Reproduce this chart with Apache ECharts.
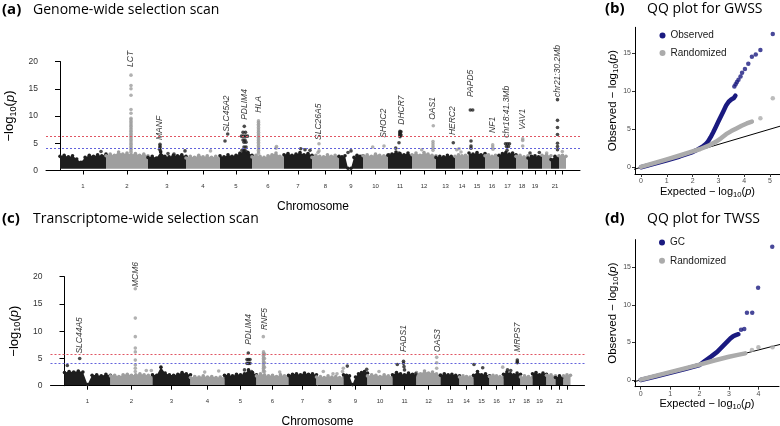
<!DOCTYPE html>
<html><head><meta charset="utf-8">
<script src="https://cdn.jsdelivr.net/npm/echarts@6/dist/echarts.min.js"></script>
<style>html,body{margin:0;padding:0;background:#fff}#c{width:780px;height:426px}</style>
</head><body><div id="c"></div>
<script>
// ---------- data ----------
const chromTickLabels = ['1','2','3','4','5','6','7','8','9','10','11','12','13','14','15','16','17','18','19','','21',''];
// relative chromosome lengths (plot units)
const chromLengths = [46,42,38,34,32,32,28,27,24,25,24,24,19,14,16,14,17,12,14,9,8,7];

// GWSS: upper edge of the dense point cloud along each chromosome
const gwssCloudTop = [
  [2.6,2.8,2.5,2.7,2.1,1.5,2.4,2.8,2.6,2.9,2.7,3.0],
  [2.7,3.0,2.8,3.4,3.0,3.2,2.9,3.1,2.8,3.0,2.7],
  [2.4,2.6,2.3,3.4,2.6,2.5,2.8,2.7,2.9,2.6],
  [2.3,2.6,2.4,2.8,2.5,2.7,2.4,2.6,2.3],
  [2.7,2.5,2.9,2.6,2.8,3.1,3.6,3.3,2.8],
  [2.5,2.8,2.6,2.4,2.7,2.9,3.2,2.6,2.5],
  [2.9,3.1,2.8,3.0,3.3,2.9,3.1,2.8],
  [2.4,2.8,2.6,2.5,2.9,2.6,2.8,2.5],
  [2.6,2.5,2.7,0.4,0.4,2.4,2.8,2.6,2.7],
  [2.7,2.9,2.6,3.0,2.8,2.7,2.9],
  [2.8,3.0,3.4,3.1,2.9,3.2,2.7],
  [2.9,3.2,2.8,3.3,3.0,2.8,2.7],
  [2.4,2.6,2.5,2.8,2.6,2.4],
  [2.6,2.9,2.7,2.8,2.6],
  [3.2,3.0,3.3,2.9,3.1],
  [2.7,2.9,2.6,2.8,2.6],
  [2.8,3.1,3.3,3.0,3.2,2.9],
  [2.6,2.8,2.5,2.7],
  [2.3,2.6,2.7,2.5,2.6],
  [2.8,2.9,2.7],
  [2.0,2.6,2.4],
  [2.7,2.8,2.6]
];
const gwssCloudBottom = 0.3;
// GWSS individual points above the cloud: [chromosome, position in chromosome, -log10 p]
const gwssPoints = [
  [1,41,3.5],
  [2,25,17.5],[2,25,15.6],[2,25,15.0],[2,25,13.8],[2,25,11.2],[2,25,10.5],
  [2,25,9.6],[2,25,9.3],[2,25,9.0],[2,25,8.7],[2,25,8.4],[2,25,8.1],[2,25,7.8],[2,25,7.5],[2,25,7.2],[2,25,6.9],
  [2,25,6.6],[2,25,6.3],[2,25,6.0],[2,25,5.7],[2,25,5.4],[2,25,5.1],[2,25,4.8],[2,25,4.5],[2,25,4.2],[2,25,3.9],[2,25,3.6],[2,25,3.3],
  [3,12,4.8],[3,12,4.5],[3,12,4.2],[3,11.5,3.9],[3,12.5,3.6],[3,20,3.1],[3,26,3.0],[3,37,3.6],
  [4,24.5,3.6],
  [5,5,5.4],[5,7.7,6.7],[5,24.3,8.1],[5,23,7.0],[5,25.5,7.0],[5,21.5,6.3],[5,23.5,6.3],[5,25.5,6.3],[5,27.5,6.3],
  [5,23,5.6],[5,25,5.6],[5,24,5.2],[5,26,5.2],[5,24,4.3],[5,26,4.3],[5,22,3.7],[5,25,3.7],[5,27,3.4],[5,20,3.2],[5,28,3.1],
  [6,6.5,9.1],[6,6.5,8.8],[6,6.5,8.5],[6,6.5,8.2],[6,6.5,7.9],[6,6.5,7.6],[6,6.5,7.3],[6,6.5,7.0],[6,6.5,6.7],[6,6.5,6.4],
  [6,6.5,6.1],[6,6.5,5.8],[6,6.5,5.5],[6,6.5,5.2],[6,6.5,4.9],[6,6.5,4.6],[6,6.5,4.3],[6,6.5,4.0],[6,6.5,3.7],[6,6.5,3.4],[6,6.5,3.1],
  [6,24,4.1],[6,24.5,4.4],
  [7,16.7,4.0],[7,21,3.8],[7,26,3.7],
  [8,7,4.9],[8,7,3.6],[8,6,3.3],
  [9,9,3.3],[9,12,3.6],
  [10,9.7,4.3],[10,21,4.5],
  [11,12,7.2],[11,12,7.0],[11,12,6.8],[11,12,6.6],[11,12,6.4],[11,12,6.2],[11,13,7.1],[11,13,6.5],
  [11,11,5.1],[11,7.7,4.1],[11,11,3.2],[11,1,2.9],[11,5,2.8],
  [12,21.3,8.2],[12,21,5.3],[12,21,4.9],[12,21,4.5],[12,21,4.1],[12,21,3.7],[12,9.7,3.8],
  [13,17.3,5.1],
  [14,1.7,3.8],[14,4,4.0],[14,6,3.4],
  [15,1.3,11.1],[15,3.7,11.1],[15,2,5.4],[15,2,4.5],[15,2,4.1],
  [16,7.7,4.7],[16,7.7,4.3],[16,8,3.9],
  [17,6.5,4.9],[17,8.5,4.9],[17,10.5,4.9],[17,7.5,4.4],[17,9.5,4.4],[17,8,3.7],
  [18,6.7,5.8],[18,6.7,5.5],[18,6.7,4.5],
  [19,2,3.2],[19,11.3,3.3],
  [20,4.7,3.2],
  [21,6.5,13.0],[21,6.5,9.2],[21,6.5,7.9],[21,6.5,6.6],[21,6.5,5.0],[21,6.5,4.4],[21,6.5,3.8],
  [22,3.3,3.5]
];
// gene annotations: [chromosome, position, label base height, name]
const gwssGenes = [
  [2,25,19.0,'LCT'],[3,12,5.6,'MANF'],[5,7,7.1,'SLC45A2'],[5,25,9.3,'PDLIM4'],[6,7,10.6,'HLA'],
  [8,7,5.6,'SLC26A5'],[10,21,6.0,'SHOC2'],[11,14,8.4,'DHCR7'],[12,21,9.3,'OAS1'],[13,17,6.5,'HERC2'],
  [15,2,13.5,'PAPD5'],[16,8,6.9,'NF1'],[17,8,6.0,'chr18:41.3Mb'],[18,7,7.5,'VAV1'],[21,7,13.5,'chr21:30.2Mb']
];
const gwssThresholds = [6.2, 4.0];

// TWSS
const twssCloudTop = [
  [2.4,2.6,2.5,2.7,2.5,0.2,1.9,2.0,1.8,2.1,1.9],
  [1.8,1.9,1.7,2.0,2.1,1.9,2.0,2.2,2.0,1.9,1.8],
  [2.0,1.9,3.4,2.3,2.0,1.9,2.1,2.4,2.2,2.0],
  [1.5,1.7,1.6,1.8,1.6,1.7,1.5,1.6,1.5],
  [1.9,2.0,1.8,2.1,2.0,2.2,2.9,2.4,2.0],
  [1.8,2.2,2.0,1.8,1.9,1.7,2.0,1.8,1.7],
  [1.9,2.1,2.2,2.0,2.3,2.1,2.2,2.0],
  [1.6,1.7,1.5,1.8,1.6,1.7,1.5,1.6],
  [2.0,1.9,1.8,0.2,1.6,2.2,2.4,2.6,2.3],
  [1.8,2.0,1.9,1.7,2.0,1.8,1.7],
  [2.0,2.4,2.2,2.0,2.3,2.1,2.0],
  [2.4,2.2,2.7,2.3,2.5,2.2,2.0],
  [1.9,2.2,2.0,2.1,1.9,1.8],
  [1.6,1.8,1.7,1.6,1.5],
  [1.9,2.6,2.0,2.2,1.8],
  [1.7,1.9,1.8,1.7,1.6],
  [2.1,2.5,2.2,2.0,2.3,2.1],
  [1.6,1.8,1.7,1.6],
  [2.2,2.4,2.0,2.3,2.1],
  [1.9,2.0,1.8],
  [1.5,1.8,1.6],
  [1.8,2.0,1.9]
];
const twssCloudBottom = 0.15;
const twssPoints = [
  [1,2.8,3.7],[1,15.2,5.0],
  [2,24.8,17.8],[2,24.8,12.4],[2,24.8,9.0],[2,24.8,6.9],[2,24.8,6.2],[2,24.8,4.7],[2,24.8,3.8],[2,24.8,3.2],[2,24.8,2.6],
  [2,35.8,2.8],[2,40.8,2.8],
  [4,14.2,2.5],[4,28.2,2.7],
  [5,23.8,6.0],[5,22.5,4.8],[5,24,4.8],[5,25.5,4.8],[5,22.5,4.1],[5,24,4.1],[5,25.5,4.1],[5,20,2.9],[5,27,2.6],
  [6,6.8,9.0],[6,7,6.2],[6,7,5.9],[6,7,5.6],[6,7,5.3],[6,7,5.0],[6,7,4.7],[6,7,4.4],[6,7,4.1],[6,7,3.8],[6,7,3.5],
  [6,7,3.2],[6,7,2.9],[6,7,2.6],[6,8,5.8],[6,8,5.0],[6,8,4.2],[6,8,3.4],[6,8,2.6],[6,23.2,2.5],
  [8,6.8,2.6],[8,16.5,2.2],[8,20.5,2.2],[8,26.8,3.2],[8,26,2.6],
  [9,3.8,3.6],[9,23.2,3.0],
  [10,11.5,2.6],
  [11,4.8,3.9],[11,11,4.5],[11,11,4.1],[11,11.5,3.5],[11,12,2.9],[11,23.2,2.2],
  [12,20.2,5.2],[12,20.2,4.2],[12,20.2,3.2],
  [15,0.5,3.9],[15,9.2,3.3],
  [16,13.2,3.4],
  [17,7.2,2.8],[17,4,2.9],[17,13.8,4.7],[17,13.8,4.4],[17,13.8,4.2]
];
const twssGenes = [
  [1,15,5.9,'SLC44A5'],[2,25.2,18.1,'MCM6'],[5,23.8,7.5,'PDLIM4'],[6,8.5,10.2,'RNF5'],
  [11,11.5,6.2,'FADS1'],[12,20.8,6.2,'OAS3'],[17,14.2,6.2,'MRPS7']
];
const twssThresholds = [5.75, 4.1];

// QQ plots: [expected, observed]
const qqGwssObservedBand = [[0,0],[0.5,0.45],[1,0.92],[1.5,1.42],[2,2.0],[2.2,2.35],[2.4,2.75],[2.5,3.0],[2.6,3.4],[2.7,3.95],[2.8,4.6],[2.9,5.3],[3.0,6.0],[3.1,6.7],[3.2,7.4],[3.3,8.1],[3.4,8.6],[3.5,8.9],[3.6,9.1],[3.66,9.4]];
const qqGwssObservedTail = [[3.62,10.6],[3.67,10.9],[3.72,11.2],[3.78,11.5],[3.86,11.9],[3.92,12.4],[4.03,12.9],[4.16,13.6],[4.3,14.5],[4.45,14.8],[4.63,15.4],[5.11,17.5]];
const qqGwssRandomBand = [[0,0.05],[0.5,0.55],[1,1.05],[1.5,1.55],[2,2.08],[2.3,2.4],[2.6,2.8],[2.9,3.35],[3.1,3.8],[3.3,4.35],[3.5,4.75],[3.7,5.1],[3.9,5.45],[4.1,5.75],[4.3,6.0]];
const qqGwssRandomTail = [[4.63,6.45],[5.11,9.05]];
const qqTwssObservedBand = [[0,0],[0.5,0.47],[1,0.95],[1.5,1.45],[2,2.0],[2.2,2.6],[2.4,3.15],[2.6,3.75],[2.8,4.55],[2.95,5.15],[3.05,5.55],[3.15,5.85],[3.25,6.0],[3.32,6.1]];
const qqTwssObservedTail = [[3.41,6.7],[3.52,6.8],[3.61,8.96],[3.79,8.96],[3.99,12.3],[4.47,17.75]];
const qqTwssRandomBand = [[0,0.05],[0.5,0.55],[1,1.05],[1.5,1.55],[2,2.05],[2.5,2.6],[3.0,3.1],[3.3,3.35],[3.55,3.55]];
const qqTwssRandomTail = [[3.78,4.0],[4.0,4.35],[4.48,4.35]];
const qqReference = [[-1,-1],[20,20]];
const qqTicksGwssX = [0,1,2,3,4,5];
const qqTicksTwssX = [0,1,2,3,4];
const qqTicksY = [0,5,10,15];

// ---------- build ----------
const BLACK = '#1e1e1e', GRAY = '#9e9e9e', NAVY = '#1a1a80', QGRAY = '#ababab';
const RED = '#e05563', BLUE = '#6262dc';
const chromStarts = []; { let acc = 0; chromLengths.forEach(l => { chromStarts.push(acc); acc += l; }); }
const chromMids = chromStarts.map((s, i) => s + chromLengths[i] / 2);
const SANS = 'Liberation Sans';

function logName(prefix) {
  return '{t|' + prefix + 'log}{s|10}{t|(}{i|p}{t|)}';
}
function logRich(size) {
  return {
    t: {fontSize: size, fontFamily: SANS, color: '#000'},
    s: {fontSize: size * 0.7, fontFamily: SANS, color: '#000', padding: [size * 0.5, 0, 0, 0]},
    i: {fontSize: size, fontFamily: SANS, fontStyle: 'italic', color: '#000'}
  };
}

function manX(gi) {
  return {
    type: 'value', gridIndex: gi, min: -14, max: 520,
    axisLine: {show: true, onZero: false, lineStyle: {color: '#000', width: 1}},
    axisTick: {show: true, customValues: chromMids, length: 4, lineStyle: {color: '#000'}},
    axisLabel: {show: true, customValues: chromMids, fontSize: 6, color: '#333', fontFamily: SANS, margin: 13,
      formatter: v => { const i = chromMids.findIndex(m => Math.abs(m - v) < 0.01); return i >= 0 ? chromTickLabels[i] : ''; }},
    splitLine: {show: false},
    name: 'Chromosome', nameLocation: 'middle', nameGap: 30,
    nameTextStyle: {fontSize: 12, fontFamily: SANS, color: '#000'}
  };
}
function manY(gi) {
  return {
    type: 'value', gridIndex: gi, min: 0, max: 20, interval: 5,
    axisLine: {show: true, lineStyle: {color: '#000', width: 1}},
    axisTick: {show: true, length: 5, lineStyle: {color: '#000'}},
    axisLabel: {fontSize: 8.5, color: '#333', fontFamily: SANS, margin: 8},
    splitLine: {show: false},
    name: logName('−'), nameLocation: 'middle', nameGap: 27, nameRotate: 90,
    nameTextStyle: {rich: logRich(13)}
  };
}
function qqX(gi, min, max, ticks) {
  return {
    type: 'value', gridIndex: gi, min: min, max: max,
    axisLine: {show: true, onZero: false, lineStyle: {color: '#000', width: 1}},
    axisTick: {show: true, customValues: ticks, length: 3, lineStyle: {color: '#333'}},
    axisLabel: {show: true, customValues: ticks, fontSize: 7, color: '#4d4d4d', fontFamily: SANS, margin: 4},
    splitLine: {show: false},
    name: logName('Expected − '), nameLocation: 'middle', nameGap: 11,
    nameTextStyle: {rich: logRich(11)}
  };
}
function qqY(gi, min, max) {
  return {
    type: 'value', gridIndex: gi, min: min, max: max,
    axisLine: {show: true, onZero: false, lineStyle: {color: '#000', width: 1}},
    axisTick: {show: true, customValues: qqTicksY, length: 3, lineStyle: {color: '#333'}},
    axisLabel: {show: true, customValues: qqTicksY, fontSize: 7, color: '#4d4d4d', fontFamily: SANS, margin: 4},
    splitLine: {show: false},
    name: logName('Observed − '), nameLocation: 'middle', nameGap: 13, nameRotate: 90,
    nameTextStyle: {rich: logRich(11.5)}
  };
}

function cloudSeries(gi, tops, bottom) {
  return {
    type: 'custom', xAxisIndex: gi, yAxisIndex: gi, silent: true, z: 1,
    data: chromLengths.map((l, i) => [chromStarts[i], 0, i]),
    encode: {x: 0, y: 1},
    renderItem: (params, api) => {
      const i = params.dataIndex, t = tops[i], s = chromStarts[i], L = chromLengths[i], n = t.length;
      const fill = i % 2 === 0 ? BLACK : GRAY;
      const pts = [api.coord([s, bottom])];
      const dots = [];
      t.forEach((v, k) => {
        const p = api.coord([s + L * k / (n - 1), v]);
        pts.push(p);
        dots.push({type: 'circle', shape: {cx: p[0], cy: p[1], r: 1.8}, style: {fill: fill}});
      });
      pts.push(api.coord([s + L, bottom]));
      return {type: 'group', children: [{type: 'polygon', shape: {points: pts}, style: {fill: fill}}].concat(dots)};
    }
  };
}
function pointSeries(gi, pts) {
  return {
    type: 'scatter', xAxisIndex: gi, yAxisIndex: gi, silent: true, z: 2, symbolSize: 3.6,
    data: pts.map(p => [chromStarts[p[0] - 1] + p[1], p[2], p[0]]),
    itemStyle: {color: params => (params.value[2] % 2 === 1 ? BLACK : GRAY)}
  };
}
function thresholdSeries(gi, value, color) {
  return {
    type: 'line', xAxisIndex: gi, yAxisIndex: gi, silent: true, z: 6, data: [],
    itemStyle: {color: color}, lineStyle: {color: color},
    markLine: {silent: true, symbol: ['none', 'none'], label: {show: false}, animation: false,
      lineStyle: {color: color, type: [2, 2], width: 1, opacity: 1},
      emphasis: {disabled: true},
      data: [{yAxis: value}]}
  };
}
function geneSeries(gi, genes) {
  return {
    type: 'scatter', xAxisIndex: gi, yAxisIndex: gi, silent: true, z: 4, symbolSize: 0, clip: false,
    data: genes.map(g => ({value: [chromStarts[g[0] - 1] + g[1], g[2]], name: g[3]})),
    label: {show: true, formatter: '{b}', rotate: 90, position: 'top', distance: 0, align: 'left', verticalAlign: 'middle',
      fontSize: 8.5, fontStyle: 'italic', fontFamily: SANS, color: '#000'}
  };
}
function qqLine(gi, name, data, color, width, z) {
  return {type: 'line', name: name, xAxisIndex: gi, yAxisIndex: gi, data: data, symbol: 'none', silent: true, z: z,
    lineStyle: {color: color, width: width, cap: 'round', join: 'round'}, itemStyle: {color: color}};
}
function qqPts(gi, name, data, color, z) {
  return {type: 'scatter', name: name, xAxisIndex: gi, yAxisIndex: gi, data: data, symbolSize: 4.5, silent: true, z: z,
    itemStyle: {color: color}};
}

const titleFont = 'Open Sans';
function titleItem(text, left, top, bold) {
  return {text: text, left: left, top: top, padding: 0,
    textStyle: {fontFamily: titleFont, fontWeight: bold ? 'bold' : 'normal', fontSize: bold ? 15 : 14, color: '#000', lineHeight: 18}};
}
const option = {
  animation: false,
  backgroundColor: '#fff',
  title: [
    titleItem('(a)', 2, 1, true), titleItem('Genome-wide selection scan', 33, 1, false),
    titleItem('(c)', 2, 210, true), titleItem('Transcriptome-wide selection scan', 33, 210, false),
    titleItem('(b)', 605, 0, true), titleItem('QQ plot for GWSS', 647, 0, false),
    titleItem('(d)', 605, 210, true), titleItem('QQ plot for TWSS', 647, 210, false)
  ],
  legend: [
    {selectedMode: false, orient: 'vertical', left: 659.5, top: 28.5, padding: 0, itemWidth: 6, itemHeight: 6, itemGap: 3.5,
      data: [{name: 'Observed', icon: 'circle'}, {name: 'Randomized', icon: 'circle'}],
      textStyle: {fontSize: 10, fontFamily: SANS, color: '#1a1a1a', lineHeight: 14}},
    {selectedMode: false, orient: 'vertical', left: 659, top: 235.5, padding: 0, itemWidth: 6, itemHeight: 6, itemGap: 4.3,
      data: [{name: 'GC', icon: 'circle'}, {name: 'Randomized', icon: 'circle'}],
      textStyle: {fontSize: 10, fontFamily: SANS, color: '#1a1a1a', lineHeight: 14}}
  ],
  grid: [
    {left: 46, top: 61.5, width: 534, height: 109, containLabel: false, outerBoundsMode: 'none'},
    {left: 50.5, top: 276.7, width: 534, height: 109, containLabel: false, outerBoundsMode: 'none'},
    {left: 635, top: 27.3, width: 145, height: 146.7, containLabel: false, outerBoundsMode: 'none'},
    {left: 635, top: 239.6, width: 144, height: 147.1, containLabel: false, outerBoundsMode: 'none'}
  ],
  xAxis: [manX(0), manX(1), qqX(2, -0.233, 5.39, qqTicksGwssX), qqX(3, -0.194, 4.70, qqTicksTwssX)],
  yAxis: [manY(0), manY(1), qqY(2, -0.88, 18.37), qqY(3, -0.89, 18.7)],
  series: [
    cloudSeries(0, gwssCloudTop, gwssCloudBottom),
    pointSeries(0, gwssPoints),
    thresholdSeries(0, gwssThresholds[0], RED),
    thresholdSeries(0, gwssThresholds[1], BLUE),
    geneSeries(0, gwssGenes),
    cloudSeries(1, twssCloudTop, twssCloudBottom),
    pointSeries(1, twssPoints),
    thresholdSeries(1, twssThresholds[0], RED),
    thresholdSeries(1, twssThresholds[1], BLUE),
    geneSeries(1, twssGenes),
    {type: 'line', xAxisIndex: 2, yAxisIndex: 2, data: qqReference, symbol: 'none', silent: true, z: 1, lineStyle: {color: '#000', width: 1}},
    qqLine(2, 'Observed', qqGwssObservedBand, NAVY, 4.5, 2),
    qqPts(2, 'Observed', qqGwssObservedTail, NAVY, 2),
    qqLine(2, 'Randomized', qqGwssRandomBand, QGRAY, 4.5, 3),
    qqPts(2, 'Randomized', qqGwssRandomTail, QGRAY, 3),
    {type: 'line', xAxisIndex: 3, yAxisIndex: 3, data: qqReference, symbol: 'none', silent: true, z: 1, lineStyle: {color: '#000', width: 1}},
    qqLine(3, 'GC', qqTwssObservedBand, NAVY, 4.5, 2),
    qqPts(3, 'GC', qqTwssObservedTail, NAVY, 2),
    qqLine(3, 'Randomized', qqTwssRandomBand, QGRAY, 4.5, 3),
    qqPts(3, 'Randomized', qqTwssRandomTail, QGRAY, 3)
  ]
};
const chart = echarts.init(document.getElementById('c'), null, {renderer: 'canvas'});
chart.setOption(option);
</script>
</body></html>
